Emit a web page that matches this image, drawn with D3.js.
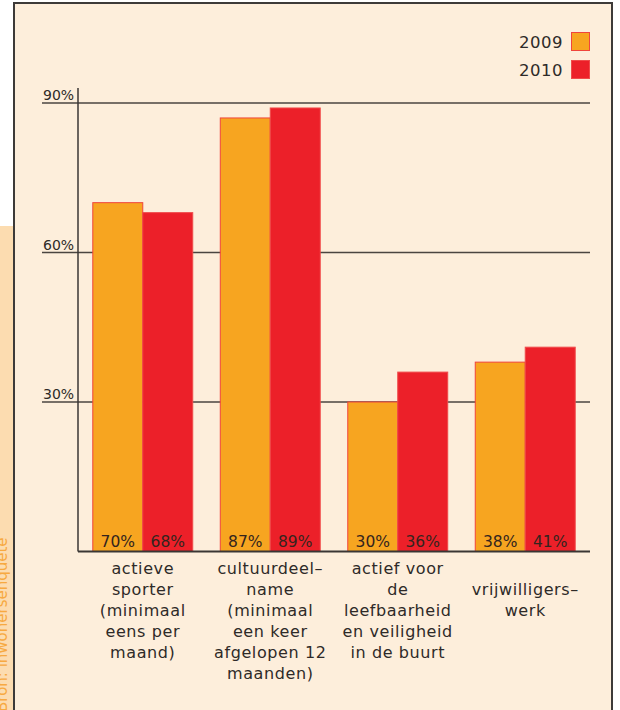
<!DOCTYPE html>
<html>
<head>
<meta charset="utf-8">
<script src="https://cdn.jsdelivr.net/npm/d3@7"></script>
<style>
  body { margin: 0; background: #fff; }
  svg { display: block; font-family: "DejaVu Sans", sans-serif; }
</style>
</head>
<body>
<div id="chart"></div>
<script>
// data
const categories = ["sport", "cultuur", "buurt", "vrijwillig"];
const categoryLabels = [
  ["actieve", "sporter", "(minimaal", "eens per", "maand)"],
  ["cultuurdeel–", "name", "(minimaal", "een keer", "afgelopen 12", "maanden)"],
  ["actief voor", "de", "leefbaarheid", "en veiligheid", "in de buurt"],
  ["", "vrijwilligers–", "werk"]
];
const years = ["2009", "2010"];
const values2009 = [70, 87, 30, 38];
const values2010 = [68, 89, 36, 41];
const yTicks = [30, 60, 90];

const colors = { "2009": "#f7a520", "2010": "#ec2029" };
const strokes = { "2009": "#f0453c", "2010": "#f04a4a" };

const width = 620, height = 710;
const svg = d3.select("#chart").append("svg")
  .attr("width", width)
  .attr("height", height);

// left strip + frame
svg.append("rect").attr("x", 0).attr("y", 226).attr("width", 14).attr("height", height - 226)
  .attr("fill", "#fcdcb0");
svg.append("rect").attr("x", 14).attr("y", 3).attr("width", 598).attr("height", height)
  .attr("fill", "#fdeedb")
  .attr("stroke", "#3d3a38").attr("stroke-width", 2);

// source note, partly hidden at the left edge like the original
svg.append("text")
  .attr("transform", "translate(7,712) rotate(-90)")
  .attr("fill", "#f7a941")
  .attr("font-size", 15)
  .text("Bron: inwonersenquête");

const x0 = 78, x1 = 590;
const x = d3.scaleBand().domain(categories).range([x0, x1])
  .paddingInner(0.216).paddingOuter(0.116);
const xSub = d3.scaleBand().domain(years).range([0, x.bandwidth()]);
const y = d3.scaleLinear().domain([0, 90]).range([551.5, 103]);

// grid lines + tick labels
const grid = svg.append("g");
grid.selectAll("line").data(yTicks).enter().append("line")
  .attr("x1", 42).attr("x2", x1)
  .attr("y1", d => y(d)).attr("y2", d => y(d))
  .attr("stroke", "#4a4540").attr("stroke-width", 1.5);
grid.selectAll("text").data(yTicks).enter().append("text")
  .attr("x", 43).attr("y", d => y(d) - 3)
  .attr("font-size", 14).attr("fill", "#2e2a28")
  .text(d => d + "%");

// bars
const rows = categories.map((c, i) => ({ cat: c, vals: [
  { year: "2009", v: values2009[i] },
  { year: "2010", v: values2010[i] }
] }));

const group = svg.selectAll(".grp").data(rows).enter().append("g")
  .attr("class", "grp")
  .attr("transform", d => `translate(${x(d.cat)},0)`);

group.selectAll("rect").data(d => d.vals).enter().append("rect")
  .attr("x", d => xSub(d.year))
  .attr("y", d => y(d.v))
  .attr("width", xSub.bandwidth())
  .attr("height", d => y(0) - y(d.v))
  .attr("fill", d => colors[d.year])
  .attr("stroke", d => strokes[d.year])
  .attr("stroke-width", 1);

group.selectAll("text.val").data(d => d.vals).enter().append("text")
  .attr("class", "val")
  .attr("x", d => xSub(d.year) + xSub.bandwidth() / 2)
  .attr("y", y(0) - 5)
  .attr("text-anchor", "middle")
  .attr("font-size", 15.5).attr("fill", "#33241e")
  .text(d => d.v + "%");

// axis lines
svg.append("line").attr("x1", x0).attr("x2", x0).attr("y1", 88).attr("y2", y(0))
  .attr("stroke", "#3a3634").attr("stroke-width", 1.5);
svg.append("line").attr("x1", x0).attr("x2", x1).attr("y1", y(0)).attr("y2", y(0))
  .attr("stroke", "#3a3634").attr("stroke-width", 2);

// category labels
svg.selectAll(".cat").data(categories).enter().append("text")
  .attr("class", "cat")
  .attr("text-anchor", "middle")
  .attr("font-size", 16).attr("letter-spacing", 0.6).attr("fill", "#2e2a28")
  .each(function (d, i) {
    d3.select(this).selectAll("tspan").data(categoryLabels[i]).enter().append("tspan")
      .attr("x", x(d) + x.bandwidth() / 2)
      .attr("y", (l, j) => 574 + j * 21)
      .text(l => l);
  });

// legend
const legend = svg.selectAll(".leg").data(years).enter().append("g")
  .attr("class", "leg")
  .attr("transform", (d, i) => `translate(0,${32 + i * 28})`);
legend.append("rect")
  .attr("x", 571.5).attr("y", 0.5).attr("width", 18).attr("height", 18)
  .attr("fill", d => colors[d])
  .attr("stroke", d => strokes[d]);
legend.append("text")
  .attr("x", 563).attr("y", 16)
  .attr("text-anchor", "end")
  .attr("font-size", 16.5).attr("letter-spacing", 0.5).attr("fill", "#2e2a28")
  .text(d => d);
</script>
</body>
</html>
